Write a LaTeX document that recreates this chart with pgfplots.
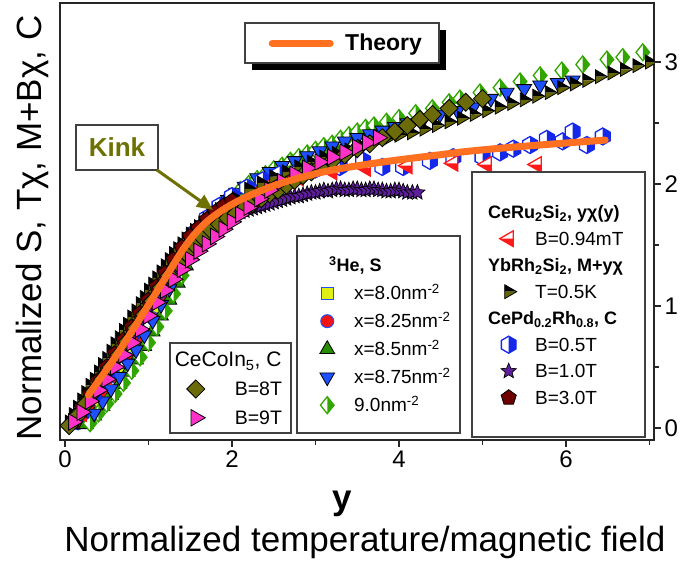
\documentclass[border=0pt]{standalone}
\usepackage{fontspec}
\setmainfont{Liberation Sans}
\usepackage{pgfplots}
\pgfplotsset{compat=1.18}
\usetikzlibrary{plotmarks,arrows.meta}

\definecolor{hegreen}{RGB}{51,165,0}
\definecolor{hexblue}{RGB}{20,40,235}
\definecolor{trired}{RGB}{255,25,25}
\definecolor{ybolive}{RGB}{100,100,0}
\definecolor{kinkolive}{RGB}{110,112,0}
\definecolor{cecolive}{RGB}{107,107,10}
\definecolor{magpink}{RGB}{255,50,200}
\definecolor{tblue}{RGB}{30,80,255}
\definecolor{tgreen}{RGB}{40,140,0}
\definecolor{yel}{RGB}{225,240,20}
\definecolor{rcirc}{RGB}{240,20,20}
\definecolor{purp}{RGB}{95,30,155}
\definecolor{dred}{RGB}{110,0,0}
\definecolor{theory}{RGB}{255,112,32}

% half-filled diamond (left white, right green)
\pgfdeclareplotmark{hdia}{%
  \pgfpathmoveto{\pgfqpoint{0pt}{\pgfplotmarksize}}%
  \pgfpathlineto{\pgfqpoint{0.8\pgfplotmarksize}{0pt}}%
  \pgfpathlineto{\pgfqpoint{0pt}{-\pgfplotmarksize}}%
  \pgfpathlineto{\pgfqpoint{-0.8\pgfplotmarksize}{0pt}}%
  \pgfpathclose\pgfsetfillcolor{white}\pgfusepathqfill
  \pgfpathmoveto{\pgfqpoint{0pt}{\pgfplotmarksize}}%
  \pgfpathlineto{\pgfqpoint{0.8\pgfplotmarksize}{0pt}}%
  \pgfpathlineto{\pgfqpoint{0pt}{-\pgfplotmarksize}}%
  \pgfpathclose\pgfsetfillcolor{hegreen}\pgfusepathqfill
  \pgfpathmoveto{\pgfqpoint{0pt}{\pgfplotmarksize}}%
  \pgfpathlineto{\pgfqpoint{0.8\pgfplotmarksize}{0pt}}%
  \pgfpathlineto{\pgfqpoint{0pt}{-\pgfplotmarksize}}%
  \pgfpathlineto{\pgfqpoint{-0.8\pgfplotmarksize}{0pt}}%
  \pgfpathclose\pgfsetstrokecolor{hegreen}\pgfusepathqstroke}
% half-filled hexagon (left white, right blue)
\pgfdeclareplotmark{hhex}{%
  \pgfpathmoveto{\pgfqpoint{0pt}{\pgfplotmarksize}}%
  \pgfpathlineto{\pgfqpoint{0.866\pgfplotmarksize}{0.5\pgfplotmarksize}}%
  \pgfpathlineto{\pgfqpoint{0.866\pgfplotmarksize}{-0.5\pgfplotmarksize}}%
  \pgfpathlineto{\pgfqpoint{0pt}{-\pgfplotmarksize}}%
  \pgfpathlineto{\pgfqpoint{-0.866\pgfplotmarksize}{-0.5\pgfplotmarksize}}%
  \pgfpathlineto{\pgfqpoint{-0.866\pgfplotmarksize}{0.5\pgfplotmarksize}}%
  \pgfpathclose\pgfsetfillcolor{white}\pgfusepathqfill
  \pgfpathmoveto{\pgfqpoint{0pt}{\pgfplotmarksize}}%
  \pgfpathlineto{\pgfqpoint{0.866\pgfplotmarksize}{0.5\pgfplotmarksize}}%
  \pgfpathlineto{\pgfqpoint{0.866\pgfplotmarksize}{-0.5\pgfplotmarksize}}%
  \pgfpathlineto{\pgfqpoint{0pt}{-\pgfplotmarksize}}%
  \pgfpathclose\pgfsetfillcolor{hexblue}\pgfusepathqfill
  \pgfpathmoveto{\pgfqpoint{0pt}{\pgfplotmarksize}}%
  \pgfpathlineto{\pgfqpoint{0.866\pgfplotmarksize}{0.5\pgfplotmarksize}}%
  \pgfpathlineto{\pgfqpoint{0.866\pgfplotmarksize}{-0.5\pgfplotmarksize}}%
  \pgfpathlineto{\pgfqpoint{0pt}{-\pgfplotmarksize}}%
  \pgfpathlineto{\pgfqpoint{-0.866\pgfplotmarksize}{-0.5\pgfplotmarksize}}%
  \pgfpathlineto{\pgfqpoint{-0.866\pgfplotmarksize}{0.5\pgfplotmarksize}}%
  \pgfpathclose\pgfsetstrokecolor{hexblue}\pgfusepathqstroke}
% half-filled left triangle (red)
\pgfdeclareplotmark{htri}{%
  \pgfpathmoveto{\pgfqpoint{-\pgfplotmarksize}{0pt}}%
  \pgfpathlineto{\pgfqpoint{0.5\pgfplotmarksize}{0.866\pgfplotmarksize}}%
  \pgfpathlineto{\pgfqpoint{0.5\pgfplotmarksize}{-0.866\pgfplotmarksize}}%
  \pgfpathclose\pgfsetfillcolor{white}\pgfusepathqfill
  \pgfpathmoveto{\pgfqpoint{-\pgfplotmarksize}{0pt}}%
  \pgfpathlineto{\pgfqpoint{0.5\pgfplotmarksize}{0pt}}%
  \pgfpathlineto{\pgfqpoint{0.5\pgfplotmarksize}{-0.866\pgfplotmarksize}}%
  \pgfpathclose\pgfsetfillcolor{trired}\pgfusepathqfill
  \pgfpathmoveto{\pgfqpoint{-\pgfplotmarksize}{0pt}}%
  \pgfpathlineto{\pgfqpoint{0.5\pgfplotmarksize}{0.866\pgfplotmarksize}}%
  \pgfpathlineto{\pgfqpoint{0.5\pgfplotmarksize}{-0.866\pgfplotmarksize}}%
  \pgfpathclose\pgfsetstrokecolor{trired}\pgfusepathqstroke}
% right triangle, top black, bottom olive
\pgfdeclareplotmark{ybtri}{%
  \pgfpathmoveto{\pgfqpoint{\pgfplotmarksize}{0pt}}%
  \pgfpathlineto{\pgfqpoint{-0.5\pgfplotmarksize}{0.866\pgfplotmarksize}}%
  \pgfpathlineto{\pgfqpoint{-0.5\pgfplotmarksize}{0pt}}%
  \pgfpathclose\pgfsetfillcolor{black}\pgfusepathqfill
  \pgfpathmoveto{\pgfqpoint{\pgfplotmarksize}{0pt}}%
  \pgfpathlineto{\pgfqpoint{-0.5\pgfplotmarksize}{0pt}}%
  \pgfpathlineto{\pgfqpoint{-0.5\pgfplotmarksize}{-0.866\pgfplotmarksize}}%
  \pgfpathclose\pgfsetfillcolor{ybolive}\pgfusepathqfill
  \pgfpathmoveto{\pgfqpoint{\pgfplotmarksize}{0pt}}%
  \pgfpathlineto{\pgfqpoint{-0.5\pgfplotmarksize}{0.866\pgfplotmarksize}}%
  \pgfpathlineto{\pgfqpoint{-0.5\pgfplotmarksize}{-0.866\pgfplotmarksize}}%
  \pgfpathclose\pgfsetstrokecolor{black}\pgfusepathqstroke}
% filled five-pointed star
\pgfdeclareplotmark{fstar}{%
  \pgfpathmoveto{\pgfpointpolar{90}{\pgfplotmarksize}}%
  \pgfpathlineto{\pgfpointpolar{126}{0.45\pgfplotmarksize}}%
  \pgfpathlineto{\pgfpointpolar{162}{\pgfplotmarksize}}%
  \pgfpathlineto{\pgfpointpolar{198}{0.45\pgfplotmarksize}}%
  \pgfpathlineto{\pgfpointpolar{234}{\pgfplotmarksize}}%
  \pgfpathlineto{\pgfpointpolar{270}{0.45\pgfplotmarksize}}%
  \pgfpathlineto{\pgfpointpolar{306}{\pgfplotmarksize}}%
  \pgfpathlineto{\pgfpointpolar{342}{0.45\pgfplotmarksize}}%
  \pgfpathlineto{\pgfpointpolar{18}{\pgfplotmarksize}}%
  \pgfpathlineto{\pgfpointpolar{54}{0.45\pgfplotmarksize}}%
  \pgfpathclose\pgfusepathqfillstroke}

\pgfplotsset{
  base/.style={at={(0pt,0pt)}, anchor=south west, scale only axis,
    width=594pt, height=437pt,
    xmin=-0.06, xmax=7.054, ymin=-0.098, ymax=3.484},
  sYel/.style={only marks, mark=square*, mark size=6pt, mark options={fill=yel, draw=tblue, line width=1pt}},
  sRed/.style={only marks, mark=*, mark size=6.5pt, mark options={fill=rcirc, draw=tblue, line width=1pt}},
  sGrT/.style={only marks, mark=triangle*, mark size=8.5pt, mark options={fill=tgreen, draw=black, line width=0.8pt}},
  sDia/.style={only marks, mark=hdia, mark size=8.5pt, mark options={line width=1.3pt}},
  sBlu/.style={only marks, mark=triangle*, mark size=8.5pt, mark options={rotate=180, fill=tblue, draw=black, line width=0.8pt}},
  sHex/.style={only marks, mark=hhex, mark size=8.5pt, mark options={line width=1.3pt}},
  sRtr/.style={only marks, mark=htri, mark size=9pt, mark options={line width=1.3pt}},
  sYb/.style={only marks, mark=ybtri, mark size=8pt, mark options={line width=0.8pt}},
  sStar/.style={only marks, mark=fstar, mark size=8pt, mark options={fill=purp, draw=black, line width=0.7pt}},
  sPen/.style={only marks, mark=pentagon*, mark size=8pt, mark options={fill=dred, draw=black, line width=0.8pt}},
  sC8/.style={only marks, mark=square*, mark size=6.4pt, mark options={rotate=45, fill=cecolive, draw=black, line width=0.8pt}},
  sC9/.style={only marks, mark=triangle*, mark size=9.5pt, mark options={rotate=-90, fill=magpink, draw=black, line width=0.8pt}},
}

\begin{document}
\begin{tikzpicture}
\path[use as bounding box] (-60pt,-121pt) rectangle (625pt,440pt);
\begin{axis}[base,
  clip marker paths=true,
  axis line style={line width=1.6pt, black!85},
  every tick/.style={line width=1.6pt, black!85},
  xtick={0,2,4,6}, minor xtick={1,3,5,7},
  ytick={0,1,2,3}, minor ytick={0.5,1.5,2.5},
  xtick pos=lower, ytick pos=upper, yticklabel pos=upper,
  tick align=outside, major tick length=7pt, minor tick length=5pt,
  ticklabel style={font=\fontsize{24}{24}\selectfont},
  /pgf/number format/assume math mode=true,
]
% 3He x=8.0
\addplot[sYel] coordinates {(0.2,0.06)(0.35,0.17)(0.5,0.3)(0.65,0.44)(0.8,0.6)(0.95,0.77)(1.1,0.95)(1.25,1.13)(1.4,1.32)(1.55,1.5)(1.7,1.64)(1.85,1.75)(2.0,1.84)(2.2,1.93)(2.4,2.0)};
% 3He x=8.25
\addplot[sRed] coordinates {(0.15,0.04)(0.3,0.15)(0.45,0.28)(0.6,0.42)(0.75,0.57)(0.9,0.73)(1.05,0.9)(1.2,1.08)(1.35,1.27)(1.5,1.45)(1.65,1.6)(1.8,1.72)(1.95,1.82)(2.1,1.9)(2.3,1.98)(2.5,2.05)(2.7,2.1)};
% 3He x=8.5
\addplot[sGrT] coordinates {(0.25,0.03)(0.35,0.1)(0.45,0.18)(0.55,0.27)(0.65,0.36)(0.75,0.46)(0.85,0.56)(0.95,0.67)(1.05,0.79)(1.15,0.92)(1.25,1.05)(1.35,1.19)(1.45,1.33)(1.55,1.46)(1.65,1.57)(1.75,1.67)(1.85,1.75)(1.95,1.82)(2.1,1.9)(2.3,1.99)(2.5,2.07)(2.7,2.13)(2.9,2.19)(3.1,2.24)(3.3,2.29)(3.5,2.33)(3.7,2.37)(3.9,2.41)(4.1,2.44)};
% 3He 9.0
\addplot[sDia] coordinates {(0.3,0.04)(0.4,0.12)(0.5,0.2)(0.6,0.28)(0.7,0.37)(0.8,0.47)(0.9,0.58)(1.0,0.7)(1.1,0.83)(1.2,0.96)(1.3,1.1)(1.4,1.25)(1.5,1.4)(1.6,1.54)(1.7,1.66)(1.8,1.76)(1.9,1.84)(2.0,1.9)(2.1,1.95)(2.2,2.0)(2.3,2.04)(2.4,2.08)(2.5,2.12)(2.6,2.15)(2.7,2.19)(2.8,2.22)(2.9,2.25)(3.0,2.28)(3.1,2.31)(3.2,2.33)(3.3,2.37)(3.4,2.4)(3.5,2.43)(3.6,2.46)(3.7,2.48)(3.85,2.51)(4.0,2.54)(4.2,2.58)(4.4,2.62)(4.6,2.67)(4.73,2.7)(4.97,2.75)(5.21,2.79)(5.45,2.84)(5.69,2.89)(5.95,2.93)(6.2,2.98)(6.49,3.02)(6.68,3.04)(6.92,3.08)};
% 3He x=8.75
\addplot[sBlu] coordinates {(0.35,0.12)(0.45,0.22)(0.55,0.32)(0.65,0.42)(0.75,0.53)(0.85,0.64)(0.95,0.76)(1.05,0.88)(1.15,1.01)(1.25,1.14)(1.35,1.28)(1.45,1.41)(1.55,1.53)(1.65,1.63)(1.75,1.72)(1.85,1.8)(1.95,1.87)(2.05,1.93)(2.15,1.98)(2.3,2.05)(2.45,2.1)(2.6,2.15)(2.75,2.19)(2.9,2.23)(3.05,2.27)(3.2,2.31)(3.35,2.35)(3.5,2.38)(3.65,2.41)(3.8,2.44)(3.95,2.47)(4.1,2.5)(4.3,2.54)(4.49,2.57)(4.7,2.6)(4.89,2.63)(5.1,2.7)(5.29,2.75)(5.5,2.78)(5.69,2.81)(5.9,2.83)(6.08,2.85)};
% CePd B=0.5T
\addplot[sHex] coordinates {(0.2,0.12)(0.35,0.28)(0.5,0.44)(0.65,0.6)(0.8,0.77)(0.95,0.94)(1.1,1.11)(1.25,1.28)(1.4,1.45)(1.55,1.6)(1.7,1.72)(1.85,1.82)(2.0,1.9)(2.18,1.97)(2.37,2.03)(2.57,2.08)(2.8,2.1)(3.0,2.12)(3.29,2.14)(3.57,2.19)(3.8,2.14)(4.05,2.14)(4.37,2.19)(4.65,2.22)(5.0,2.22)(5.21,2.26)(5.37,2.29)(5.57,2.32)(5.77,2.37)(5.96,2.35)(6.08,2.43)(6.25,2.32)(6.44,2.39)};
% CeRu2Si2
\addplot[sRtr] coordinates {(0.2,0.12)(0.5,0.42)(0.8,0.75)(1.1,1.08)(1.4,1.4)(1.7,1.66)(2.0,1.83)(2.4,1.97)(2.8,2.05)(3.2,2.1)(3.6,2.13)(4.1,2.15)(4.65,2.17)(5.05,2.16)(5.65,2.16)};
% YbRh2Si2
\addplot[sYb] coordinates {(0.05,0.05)(0.1,0.11)(0.15,0.17)(0.2,0.23)(0.25,0.29)(0.3,0.35)(0.35,0.4)(0.4,0.46)(0.45,0.52)(0.5,0.57)(0.55,0.63)(0.6,0.69)(0.65,0.74)(0.7,0.8)(0.75,0.85)(0.8,0.91)(0.85,0.96)(0.9,1.02)(0.95,1.07)(1.0,1.13)(1.05,1.18)(1.1,1.23)(1.15,1.28)(1.2,1.33)(1.25,1.38)(1.3,1.43)(1.35,1.47)(1.4,1.51)(1.45,1.55)(1.5,1.59)(1.55,1.62)(1.6,1.65)(1.65,1.68)(1.7,1.71)(1.75,1.74)(1.85,1.79)(1.95,1.84)(2.05,1.88)(2.2,1.96)(2.35,2.01)(2.5,2.06)(2.65,2.1)(2.8,2.14)(2.95,2.18)(3.1,2.22)(3.25,2.25)(3.4,2.28)(3.55,2.31)(3.7,2.34)(3.85,2.37)(4.0,2.4)(4.15,2.42)(4.3,2.45)(4.45,2.48)(4.6,2.51)(4.75,2.54)(4.9,2.57)(5.05,2.6)(5.2,2.63)(5.35,2.66)(5.5,2.69)(5.65,2.72)(5.8,2.75)(5.95,2.79)(6.1,2.82)(6.25,2.85)(6.4,2.88)(6.55,2.91)(6.7,2.94)(6.85,2.97)(7.0,3.0)};
% CePd B=3.0T
\addplot[sPen] coordinates {(0.1,0.06)(0.2,0.17)(0.3,0.28)(0.4,0.39)(0.5,0.5)(0.6,0.61)(0.7,0.72)(0.8,0.83)(0.9,0.94)(1.0,1.05)(1.1,1.16)(1.2,1.27)(1.3,1.38)(1.4,1.48)(1.5,1.57)(1.6,1.64)(1.7,1.71)(1.8,1.77)(1.9,1.82)(2.0,1.86)};
% CePd B=1.0T
\addplot[sStar] coordinates {(0.1,0.04)(0.2,0.14)(0.3,0.24)(0.4,0.34)(0.5,0.44)(0.6,0.54)(0.7,0.64)(0.8,0.75)(0.9,0.86)(1.0,0.97)(1.1,1.08)(1.2,1.19)(1.3,1.3)(1.4,1.4)(1.5,1.49)(1.6,1.56)(1.7,1.62)(1.8,1.67)(1.9,1.71)(2.0,1.74)(2.05,1.76)(2.1,1.77)(2.15,1.78)(2.2,1.79)(2.25,1.8)(2.3,1.81)(2.35,1.82)(2.4,1.83)(2.45,1.84)(2.5,1.85)(2.55,1.86)(2.6,1.87)(2.65,1.88)(2.7,1.89)(2.75,1.9)(2.8,1.9)(2.85,1.91)(2.9,1.92)(2.95,1.93)(3.0,1.93)(3.05,1.94)(3.1,1.95)(3.15,1.94)(3.2,1.95)(3.25,1.96)(3.3,1.96)(3.35,1.95)(3.4,1.95)(3.45,1.96)(3.5,1.96)(3.55,1.95)(3.6,1.95)(3.65,1.96)(3.7,1.96)(3.75,1.95)(3.8,1.95)(3.85,1.94)(3.9,1.94)(3.95,1.95)(4.0,1.95)(4.05,1.94)(4.1,1.93)(4.16,1.93)(4.22,1.93)};
% CeCoIn5 B=8T
\addplot[sC8] coordinates {(0.05,0.02)(0.15,0.1)(0.25,0.2)(0.35,0.3)(0.45,0.4)(0.55,0.5)(0.65,0.6)(0.75,0.71)(0.85,0.82)(0.95,0.93)(1.05,1.04)(1.15,1.15)(1.25,1.25)(1.35,1.35)(1.45,1.43)(1.55,1.5)(1.65,1.56)(1.75,1.62)(1.85,1.67)(1.95,1.72)(2.05,1.76)(2.15,1.8)(2.25,1.84)(2.35,1.88)(2.45,1.92)(2.55,1.95)(2.65,1.99)(2.75,2.03)(2.85,2.07)(2.95,2.1)(3.05,2.14)(3.2,2.19)(3.35,2.24)(3.5,2.29)(3.65,2.33)(3.8,2.38)(3.95,2.43)(4.1,2.48)(4.25,2.53)(4.4,2.57)(4.6,2.62)(4.8,2.67)(5.0,2.7)};
% CeCoIn5 B=9T
\addplot[sC9] coordinates {(0.1,0.05)(0.2,0.13)(0.3,0.22)(0.4,0.31)(0.5,0.4)(0.6,0.5)(0.7,0.6)(0.8,0.7)(0.9,0.81)(1.0,0.92)(1.1,1.03)(1.2,1.13)(1.3,1.22)(1.4,1.3)(1.5,1.38)(1.6,1.45)(1.7,1.51)(1.8,1.57)(1.9,1.63)(2.0,1.69)(2.1,1.75)(2.2,1.81)(2.33,1.88)(2.45,1.95)(2.6,2.02)(2.75,2.08)(2.9,2.13)(3.05,2.18)(3.2,2.22)(3.35,2.26)(3.5,2.3)(3.62,2.34)(3.75,2.38)};
% Theory
\addplot[theory, line width=7pt, line cap=round, smooth, tension=0.6, mark=none] coordinates {(0.28,0.27)(0.6,0.58)(0.9,0.9)(1.2,1.23)(1.45,1.5)(1.65,1.66)(1.85,1.77)(2.1,1.87)(2.4,1.96)(2.7,2.03)(3.17,2.11)(3.8,2.18)(4.49,2.24)(4.85,2.27)(5.5,2.31)(6.47,2.36)};
\end{axis}

% frames
\fill[black] (192pt,370pt) rectangle (386pt,410pt);
\draw[fill=white, draw=black!75, line width=1.2pt] (185pt,377pt) rectangle (379pt,417pt);
\draw[fill=white, draw=black!75, line width=1.2pt] (16pt,270pt) rectangle (98pt,315pt);
\node[text=kinkolive, font=\bfseries\fontsize{26}{26}\selectfont] at (57pt,292.5pt) {Kink};
\draw[kinkolive, line width=3pt, -{Triangle[length=16pt,width=14pt]}] (97pt,270pt) -- (153pt,230pt);
\draw[fill=white, draw=black!75, line width=1.2pt] (237pt,7pt) rectangle (400pt,204pt);
\draw[fill=white, draw=black!75, line width=1.2pt] (412pt,3pt) rectangle (585pt,268pt);
\draw[fill=white, draw=black!75, line width=1.2pt] (110pt,7pt) rectangle (231pt,97pt);

% axis titles
\node[rotate=90, anchor=base, font=\fontsize{35}{35}\selectfont] at (-18pt,212pt) {Normalized S, Tχ, M+Bχ, C};
\node[anchor=base, font=\bfseries\fontsize{35}{35}\selectfont] at (282pt,-70pt) {y};
\node[anchor=base, font=\fontsize{35}{35}\selectfont] at (305pt,-112pt) {Normalized temperature/magnetic field};

% Theory legend
\begin{axis}[base, hide axis, legend cell align=left,
  legend image code/.code={\draw[#1] (0pt,0pt) -- (58pt,0pt);},
  legend style={draw=none, fill=none, at={(0.351,0.9285)}, anchor=north west,
    inner sep=0pt, column sep=11.5pt, font=\bfseries\fontsize{23}{23}\selectfont,
    nodes={inner sep=0pt, text height=16.5pt, text depth=1pt}}]
\addlegendimage{theory, line width=7pt, line cap=round}
\addlegendentry{Theory}
\end{axis}

% 3He legend
\begin{axis}[base, hide axis, legend cell align=left,
  legend style={draw=none, fill=none, at={(0.4352,0.4205)}, anchor=north west,
    inner sep=0pt, column sep=19.5pt, row sep=10.5pt, font=\fontsize{19}{19}\selectfont,
    nodes={inner sep=0pt, text height=15.5pt, text depth=2pt}}]
\addlegendimage{empty legend}
\addlegendentry{\hspace*{-25pt}\bfseries\fontsize{18}{18}\selectfont\textsuperscript{3}He, S}
\addlegendimage{sYel}\addlegendentry{x=8.0nm\textsuperscript{-2}}
\addlegendimage{sRed}\addlegendentry{x=8.25nm\textsuperscript{-2}}
\addlegendimage{sGrT}\addlegendentry{x=8.5nm\textsuperscript{-2}}
\addlegendimage{sBlu}\addlegendentry{x=8.75nm\textsuperscript{-2}}
\addlegendimage{sDia}\addlegendentry{9.0nm\textsuperscript{-2}}
\end{axis}

% right legend
\begin{axis}[base, hide axis, legend cell align=left,
  legend style={draw=none, fill=none, at={(0.7399,0.5418)}, anchor=north west,
    inner sep=0pt, column sep=18.5pt, row sep=9pt, font=\fontsize{19}{19}\selectfont,
    nodes={inner sep=0pt, text height=15.5pt, text depth=2pt}}]
\addlegendimage{empty legend}
\addlegendentry{\hspace*{-47pt}\bfseries\fontsize{18}{18}\selectfont CeRu\textsubscript{2}Si\textsubscript{2}, yχ(y)}
\addlegendimage{sRtr}\addlegendentry{B=0.94mT}
\addlegendimage{empty legend}
\addlegendentry{\hspace*{-47pt}\bfseries\fontsize{18}{18}\selectfont YbRh\textsubscript{2}Si\textsubscript{2}, M+yχ}
\addlegendimage{sYb}\addlegendentry{T=0.5K}
\addlegendimage{empty legend}
\addlegendentry{\hspace*{-47pt}\bfseries\fontsize{18}{18}\selectfont CePd\textsubscript{0.2}Rh\textsubscript{0.8}, C}
\addlegendimage{sHex}\addlegendentry{B=0.5T}
\addlegendimage{sStar}\addlegendentry{B=1.0T}
\addlegendimage{sPen}\addlegendentry{B=3.0T}
\end{axis}

% CeCoIn5 legend
\begin{axis}[base, hide axis, legend cell align=left,
  legend style={draw=none, fill=none, at={(0.213,0.2031)}, anchor=north west,
    inner sep=0pt, column sep=29.5pt, row sep=11pt, font=\fontsize{19.5}{19.5}\selectfont,
    nodes={inner sep=0pt, text height=15.5pt, text depth=2pt}}]
\addlegendimage{empty legend}
\addlegendentry{\hspace*{-60pt}\fontsize{21}{21}\selectfont CeCoIn\textsubscript{5}, C}
\addlegendimage{sC8}\addlegendentry{B=8T}
\addlegendimage{sC9}\addlegendentry{B=9T}
\end{axis}
\end{tikzpicture}
\end{document}
